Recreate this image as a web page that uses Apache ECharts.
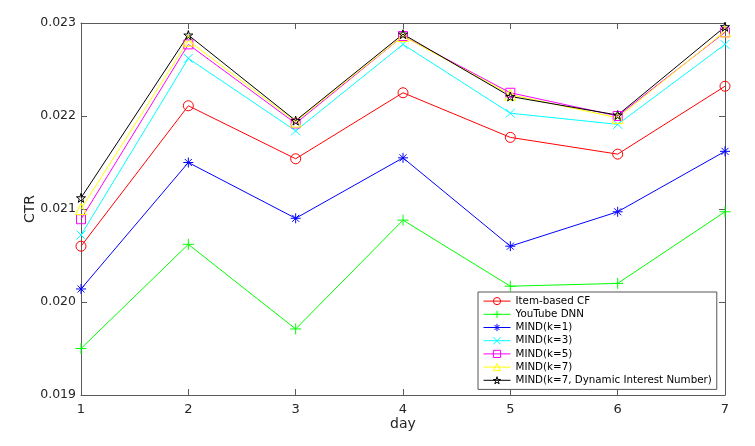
<!DOCTYPE html>
<html><head><meta charset="utf-8">
<script src="https://cdn.jsdelivr.net/npm/echarts@6/dist/echarts.min.js"></script>
<style>html,body{margin:0;padding:0;background:#fff}#c{width:755px;height:446px}</style>
</head><body><div id="c"></div>
<script>
const days = ['1','2','3','4','5','6','7'];
const yTicks = [0.019, 0.020, 0.021, 0.022, 0.023];
const names = ['Item-based CF','YouTube DNN','MIND(k=1)','MIND(k=3)','MIND(k=5)','MIND(k=7)','MIND(k=7, Dynamic Interest Number)'];
const itemCF   = [0.02060, 0.02211, 0.02154, 0.02225, 0.02177, 0.02159, 0.02232];
const youtube  = [0.01950, 0.02062, 0.01971, 0.02088, 0.02017, 0.02020, 0.02097];
const mind1    = [0.02014, 0.02150, 0.02090, 0.02155, 0.02060, 0.02097, 0.02162];
const mind3    = [0.02072, 0.02262, 0.02184, 0.02277, 0.02203, 0.02191, 0.02277];
const mind5    = [0.02089, 0.02277, 0.02192, 0.02286, 0.02225, 0.02200, 0.02290];
const mind7    = [0.02100, 0.02281, 0.02194, 0.02286, 0.02223, 0.02198, 0.02291];
const mind7din = [0.02112, 0.02287, 0.02195, 0.02288, 0.02221, 0.02201, 0.02296];

const colors = ['#ff0000','#00ff00','#0000ff','#00ffff','#ff00ff','#ffff00','#000000'];
const symbols = [
  'path://M10,5A5,5,0,1,1,0,5A5,5,0,1,1,10,5Z',
  'path://M5,0L5,10M0,5L10,5',
  'path://M5,0L5,10M0,5L10,5M1.5,1.5L8.5,8.5M8.5,1.5L1.5,8.5',
  'path://M0,0L10,10M10,0L0,10',
  'path://M0,0L10,0L10,10L0,10Z',
  'path://M5,0L10,9L0,9Z',
  'path://M50,0L61,35L98,35L68,57L79,91L50,70L21,91L32,57L2,35L39,35Z'
];
const sizes = [10, 11, 10, 9, 9, 11, 9];
const dataSets = [itemCF, youtube, mind1, mind3, mind5, mind7, mind7din];
const axisCol = '#5a5a5a';
const font = 'DejaVu Sans';

function style(i) {
  return {color: 'none', borderColor: colors[i], borderWidth: 1, opacity: 1};
}

const series = dataSets.map((d, i) => ({
  name: names[i], type: 'line', data: d,
  symbol: symbols[i], symbolSize: sizes[i],
  lineStyle: {color: colors[i], width: 1},
  itemStyle: style(i),
  emphasis: {disabled: true},
  animation: false
}));

const chart = echarts.init(document.getElementById('c'), null, {renderer: 'canvas'});
chart.setOption({
  animation: false,
  grid: {left: 81, right: 30, top: 23, bottom: 51},
  xAxis: [{
    type: 'category', data: days, boundaryGap: false,
    name: 'day', nameLocation: 'middle', nameGap: 22, nameMoveOverlap: false,
    nameTextStyle: {fontFamily: font, fontSize: 14, color: '#262626'},
    axisLine: {lineStyle: {color: axisCol}},
    axisTick: {inside: true, length: 6, lineStyle: {color: axisCol}},
    axisLabel: {fontFamily: font, fontSize: 13, color: '#262626', margin: 8},
    splitLine: {show: false}
  }, {
    type: 'category', data: days, boundaryGap: false, position: 'top',
    axisLine: {lineStyle: {color: axisCol}},
    axisTick: {inside: true, length: 6, lineStyle: {color: axisCol}},
    axisLabel: {show: false}, splitLine: {show: false}
  }],
  yAxis: [{
    type: 'value', min: yTicks[0], max: yTicks[yTicks.length-1], interval: 0.001,
    name: 'CTR', nameLocation: 'middle', nameGap: 44, nameMoveOverlap: false,
    nameTextStyle: {fontFamily: font, fontSize: 14, color: '#262626'},
    axisLine: {show: true, lineStyle: {color: axisCol}},
    axisTick: {show: true, inside: true, length: 6, lineStyle: {color: axisCol}},
    axisLabel: {fontFamily: font, fontSize: 12.5, color: '#262626', margin: 5, formatter: v => v.toFixed(3)},
    splitLine: {show: false}
  }, {
    type: 'value', min: yTicks[0], max: yTicks[yTicks.length-1], interval: 0.001, position: 'right',
    axisLine: {show: true, lineStyle: {color: axisCol}},
    axisTick: {show: true, inside: true, length: 6, lineStyle: {color: axisCol}},
    axisLabel: {show: false}, splitLine: {show: false}
  }],
  legend: {
    orient: 'vertical', left: 478, top: 292,
    padding: [3, 5, 3, 5],
    itemWidth: 27, itemHeight: 9, itemGap: 1,
    backgroundColor: '#fff', borderColor: '#555', borderWidth: 1, borderRadius: 0,
    textStyle: {fontFamily: font, fontSize: 10.3, color: '#000', lineHeight: 9},
    data: names.map((n, i) => ({name: n, itemStyle: style(i), lineStyle: {color: colors[i], width: 1}}))
  },
  series: series
});
</script></body></html>
